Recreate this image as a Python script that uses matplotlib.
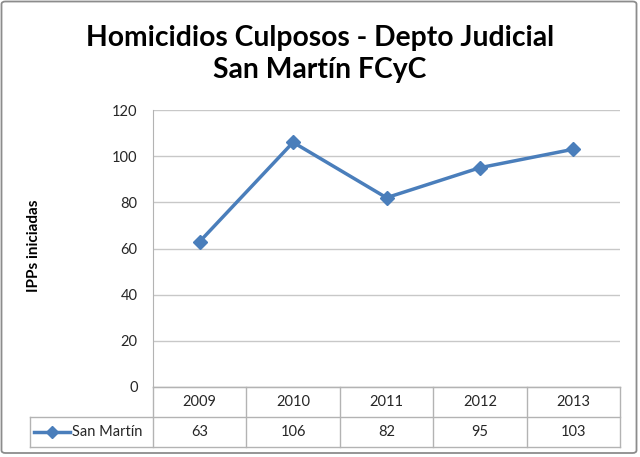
import numpy as np
import matplotlib.pyplot as plt
from matplotlib.patches import FancyBboxPatch
from matplotlib.lines import Line2D

# datos
anios = ['2009', '2010', '2011', '2012', '2013']
ipps = [63, 106, 82, 95, 103]
serie = 'San Martín'
titulo = 'Homicidios Culposos - Depto Judicial\nSan Martín FCyC'
ylabel = 'IPPs iniciadas'
yticks = [0, 20, 40, 60, 80, 100, 120]

W, H = 640, 457
azul = '#4A7EBB'
gris = '#B3B3B3'
texto = '#262626'


# pixeles -> coordenadas de figura
def fx(x):
    return x / W


def fy(y):
    return 1 - y / H


plt.rcParams['font.family'] = ['Lato', 'DejaVu Sans']
fig = plt.figure(figsize=(6.4, 4.57), dpi=100)

# borde exterior
borde = FancyBboxPatch((fx(1.5), fy(453)), fx(636.5) - fx(1.5), fy(1.5) - fy(453),
                       boxstyle='round,pad=0,rounding_size=0.006',
                       transform=fig.transFigure, fc='white', ec='#8C8C8C', lw=1.3,
                       zorder=-1)
fig.patches.append(borde)

fig.text(0.5, fy(54), titulo, ha='center', va='center', fontsize=20.3,
         fontweight='bold', linespacing=1.27, color='black')

# area de grafico
x0, x1, ytop, ybot = 153, 620, 110, 387
ax = fig.add_axes([fx(x0), fy(ybot), fx(x1) - fx(x0), fy(ytop) - fy(ybot)])
ax.patch.set_alpha(0)
x = np.arange(len(anios))
ax.plot(x, ipps, color=azul, lw=2.5, marker='D', ms=7, zorder=3)
ax.set_xlim(-0.5, len(anios) - 0.5)
ax.set_ylim(0, 120)
ax.set_yticks(yticks)
ax.set_xticks([])
ax.grid(axis='y', color='#C8C8C8', lw=1)
ax.set_axisbelow(True)
for s in ['top', 'right']:
    ax.spines[s].set_visible(False)
ax.spines['left'].set_color(gris)
ax.spines['bottom'].set_color(gris)
ax.tick_params(axis='y', length=0, pad=11, labelsize=10.5, labelcolor=texto)

fig.text(fx(34), fy(246), ylabel, rotation=90, ha='center', va='center',
         fontsize=11, fontweight='bold', color='black')

# tabla de datos
ancho = (x1 - x0) / len(anios)
r0, r1, r2 = 387, 417, 447
xleg = 30
lineas = [([x0, x1], [r0, r0]), ([xleg, x1], [r1, r1]), ([xleg, x1], [r2, r2]),
          ([xleg, xleg], [r1, r2])]
for i in range(len(anios) + 1):
    xc = x0 + i * ancho
    lineas.append(([xc, xc], [r0, r2]))
for xs, ys in lineas:
    fig.add_artist(Line2D([fx(v) for v in xs], [fy(v) for v in ys],
                          transform=fig.transFigure, color=gris, lw=1))

for i, (a, v) in enumerate(zip(anios, ipps)):
    xc = x0 + (i + 0.5) * ancho
    fig.text(fx(xc), fy((r0 + r1) / 2), a, ha='center', va='center',
             fontsize=10.5, color=texto)
    fig.text(fx(xc), fy((r1 + r2) / 2), str(v), ha='center', va='center',
             fontsize=10.5, color=texto)

ym = (r1 + r2) / 2
fig.add_artist(Line2D([fx(34), fx(70)], [fy(ym), fy(ym)], transform=fig.transFigure,
                      color=azul, lw=2.5))
fig.add_artist(Line2D([fx(52)], [fy(ym)], transform=fig.transFigure, color=azul,
                      marker='D', ms=6))
fig.text(fx(72), fy(ym), serie, ha='left', va='center', fontsize=10.5, color=texto)

fig.savefig('out.png', dpi=100)
